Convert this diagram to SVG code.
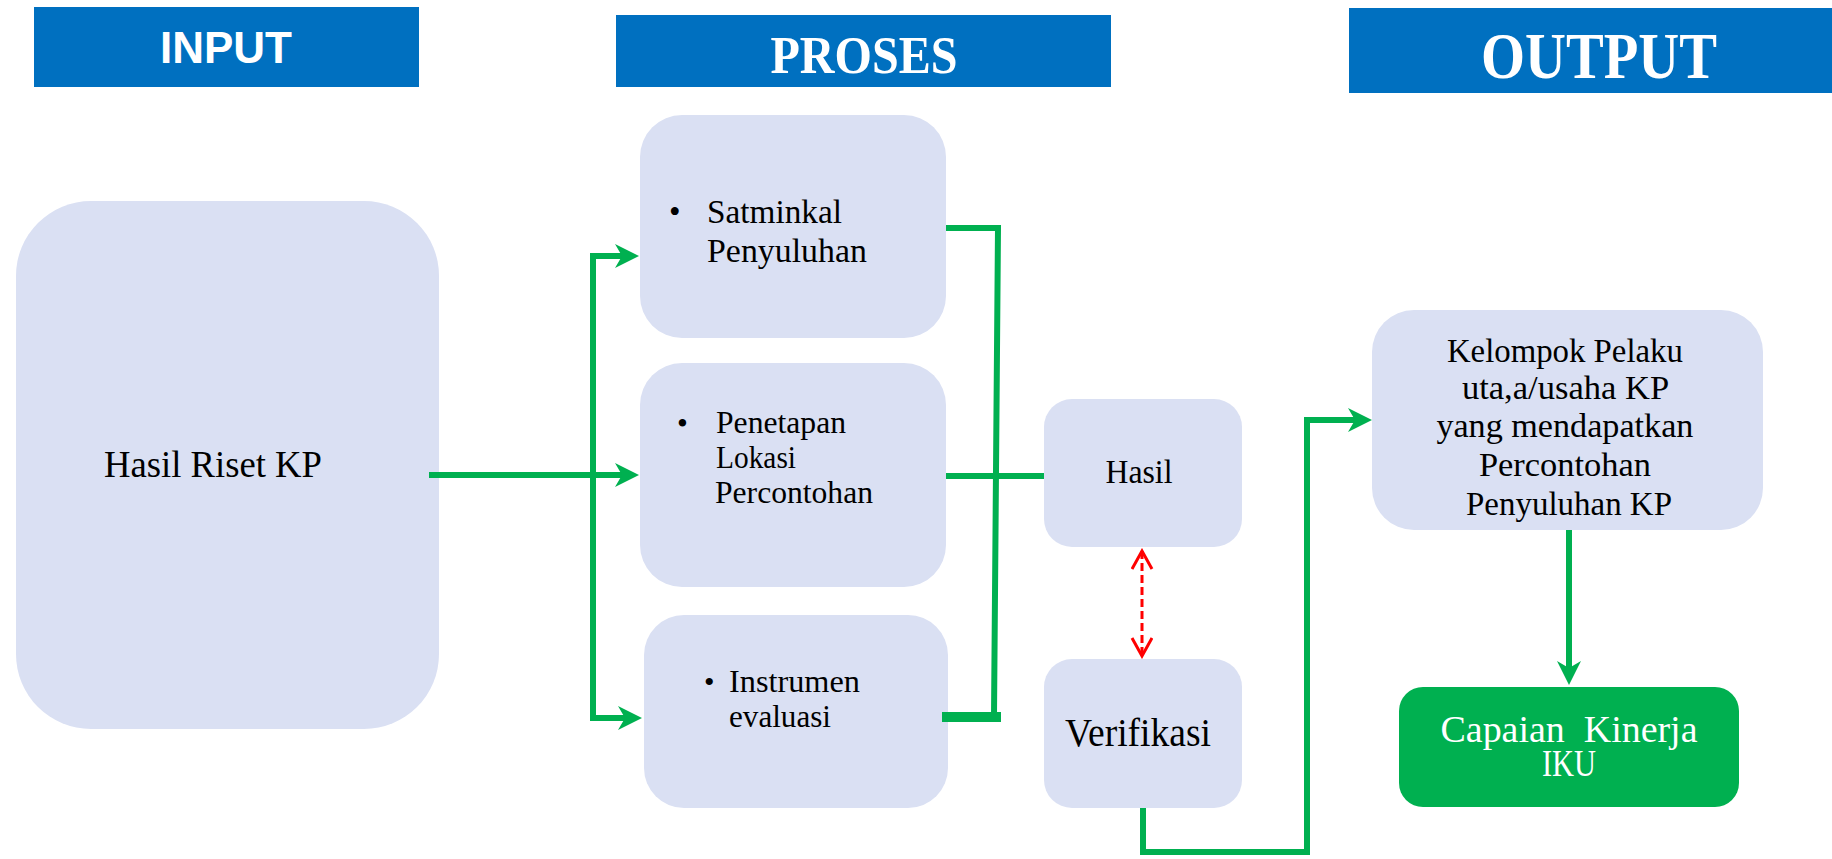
<svg xmlns="http://www.w3.org/2000/svg" width="1832" height="859" viewBox="0 0 1832 859">
<style>
.hdr{fill:#0070C0}
.box{fill:#DAE0F3}
.t{font-family:"Liberation Serif",serif;fill:#000}
.w{font-family:"Liberation Serif",serif;fill:#fff}
.ht{font-weight:bold;fill:#fff}
.g{fill:none;stroke:#00B050;stroke-width:6;stroke-linejoin:miter}
.r{fill:none;stroke:#FF0000;stroke-width:3;stroke-dasharray:8,4}
</style>
<defs>
<marker id="ag" markerUnits="userSpaceOnUse" markerWidth="26" markerHeight="26" refX="12" refY="12" orient="auto">
<path d="M0,0 L24,12 L0,24 L7,12 Z" fill="#00B050"/>
</marker>
<marker id="ar" markerUnits="userSpaceOnUse" markerWidth="22" markerHeight="24" refX="19" refY="11" orient="auto-start-reverse">
<path d="M1,1 L19,11 L1,21" fill="none" stroke="#FF0000" stroke-width="3"/>
</marker>
</defs>

<g id="hdr-input">
<rect class="hdr" x="34" y="7" width="385" height="80"/>
<text class="ht" x="226" y="63" text-anchor="middle" font-family="Liberation Sans,sans-serif" font-size="44" textLength="132" lengthAdjust="spacingAndGlyphs">INPUT</text>
</g>
<g id="hdr-proses">
<rect class="hdr" x="616" y="15" width="495" height="72"/>
<text class="ht" x="864" y="73" text-anchor="middle" font-family="Liberation Serif,serif" font-size="53" textLength="187" lengthAdjust="spacingAndGlyphs">PROSES</text>
</g>
<g id="hdr-output">
<rect class="hdr" x="1349" y="8" width="483" height="85"/>
<text class="ht" x="1599" y="78" text-anchor="middle" font-family="Liberation Serif,serif" font-size="65" textLength="236" lengthAdjust="spacingAndGlyphs">OUTPUT</text>
</g>

<g id="hasil-riset">
<rect class="box" x="16" y="201" width="423" height="528" rx="75" ry="75"/>
<text class="t" x="104" y="477" font-size="38" textLength="218" lengthAdjust="spacingAndGlyphs">Hasil Riset KP</text>
</g>

<g id="satminkal">
<rect class="box" x="640" y="115" width="306" height="223" rx="42" ry="42"/>
<text class="t" x="669" y="223" font-size="33">•</text>
<text class="t" x="707" y="223" font-size="33" textLength="135" lengthAdjust="spacingAndGlyphs">Satminkal</text>
<text class="t" x="707" y="262" font-size="33" textLength="160" lengthAdjust="spacingAndGlyphs">Penyuluhan</text>
</g>

<g id="penetapan">
<rect class="box" x="640" y="363" width="306" height="224" rx="42" ry="42"/>
<text class="t" x="677" y="434" font-size="31">•</text>
<text class="t" x="716" y="433" font-size="31" textLength="130" lengthAdjust="spacingAndGlyphs">Penetapan</text>
<text class="t" x="716" y="468" font-size="31" textLength="80" lengthAdjust="spacingAndGlyphs">Lokasi</text>
<text class="t" x="715" y="503" font-size="31" textLength="158" lengthAdjust="spacingAndGlyphs">Percontohan</text>
</g>

<g id="instrumen">
<rect class="box" x="644" y="615" width="304" height="193" rx="40" ry="40"/>
<text class="t" x="704" y="692" font-size="30">•</text>
<text class="t" x="729" y="692" font-size="31" textLength="131" lengthAdjust="spacingAndGlyphs">Instrumen</text>
<text class="t" x="729" y="727" font-size="31" textLength="102" lengthAdjust="spacingAndGlyphs">evaluasi</text>
</g>

<g id="hasil">
<rect class="box" x="1044" y="399" width="198" height="148" rx="28" ry="28"/>
<text class="t" x="1139" y="483" font-size="33" text-anchor="middle" textLength="67" lengthAdjust="spacingAndGlyphs">Hasil</text>
</g>

<g id="verifikasi">
<rect class="box" x="1044" y="659" width="198" height="149" rx="28" ry="28"/>
<text class="t" x="1138" y="746" font-size="39" text-anchor="middle" textLength="146" lengthAdjust="spacingAndGlyphs">Verifikasi</text>
</g>

<g id="kelompok">
<rect class="box" x="1372" y="310" width="391" height="220" rx="42" ry="42"/>
<text class="t" font-size="33" text-anchor="middle">
<tspan x="1569" y="362" textLength="236" lengthAdjust="spacingAndGlyphs">Kelompok Pelaku</tspan>
<tspan x="1569" y="399" textLength="206" lengthAdjust="spacingAndGlyphs">uta,a/usaha KP</tspan>
<tspan x="1569" y="437" textLength="257" lengthAdjust="spacingAndGlyphs">yang mendapatkan</tspan>
<tspan x="1569" y="476" textLength="172" lengthAdjust="spacingAndGlyphs">Percontohan</tspan>
<tspan x="1569" y="515" textLength="206" lengthAdjust="spacingAndGlyphs">Penyuluhan KP</tspan>
</text>
</g>

<g id="capaian">
<rect x="1399" y="687" width="340" height="120" rx="24" ry="24" fill="#00B050"/>
<text class="w" x="1569" y="742" font-size="37" text-anchor="middle" style="white-space:pre" textLength="257" lengthAdjust="spacingAndGlyphs">Capaian  Kinerja</text>
<text class="w" x="1569" y="776" font-size="37" text-anchor="middle" textLength="54" lengthAdjust="spacingAndGlyphs">IKU</text>
</g>

<g id="connectors">
<path class="g" d="M429,475 H627" marker-end="url(#ag)"/>
<path class="g" d="M593,478 V256 H627" marker-end="url(#ag)"/>
<path class="g" d="M593,472 V718 H630" marker-end="url(#ag)"/>
<path class="g" d="M946,228 H998 L994,716"/>
<path class="g" d="M942,717 H1001" style="stroke-width:10"/>
<path class="g" d="M946,476 H1044"/>
<path class="g" d="M1143,808 V852 H1307 V420 H1360" marker-end="url(#ag)"/>
<path class="g" d="M1569,530 V673" marker-end="url(#ag)"/>
<path class="r" d="M1142,551 V656" marker-start="url(#ar)" marker-end="url(#ar)"/>
</g>
</svg>
